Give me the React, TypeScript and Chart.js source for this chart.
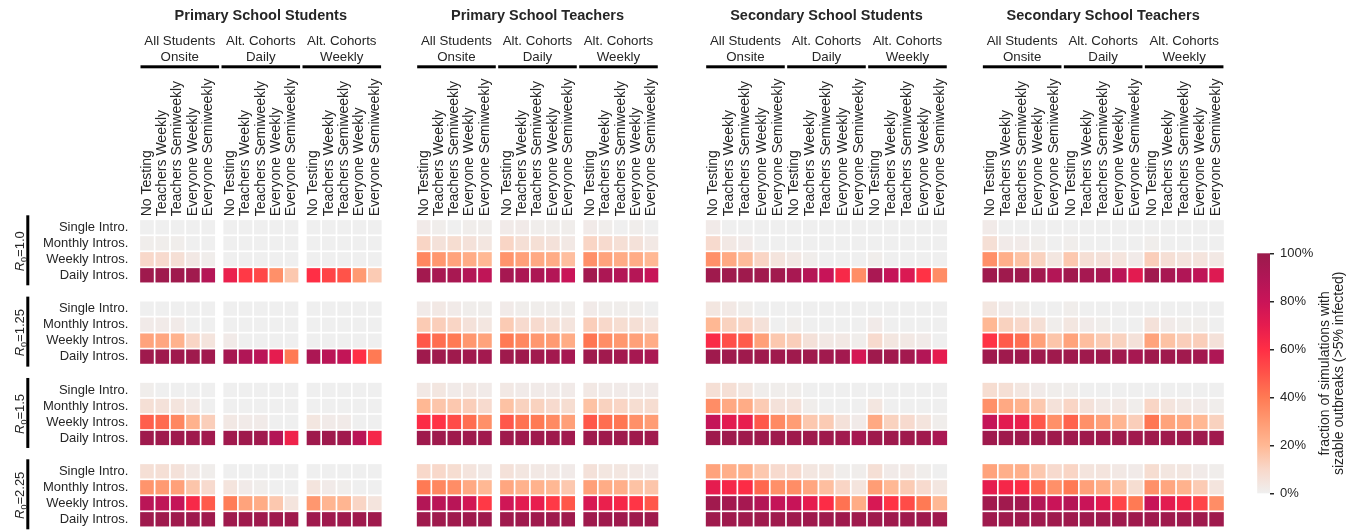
import React, { useEffect, useRef } from "react";
import { Chart, registerables } from "chart.js";

Chart.register(...registerables);

// ---------- labels ----------
const groupTitles = [
  "Primary School Students",
  "Primary School Teachers",
  "Secondary School Students",
  "Secondary School Teachers",
];
const scheduleLabels = [
  ["All Students", "Onsite"],
  ["Alt. Cohorts", "Daily"],
  ["Alt. Cohorts", "Weekly"],
];
const testingLabels = [
  "No Testing",
  "Teachers Weekly",
  "Teachers Semiweekly",
  "Everyone Weekly",
  "Everyone Semiweekly",
];
const introLabels = ["Single Intro.", "Monthly Intros.", "Weekly Intros.", "Daily Intros."];
const r0Values = ["1.0", "1.25", "1.5", "2.25"];
const colorbarTicks = [0, 20, 40, 60, 80, 100];
const colorbarTitle = ["fraction of simulations with", "sizable outbreaks (>5% infected)"];

// ---------- values (% of simulations with sizable outbreaks) ----------
// rows: R0 block (1.0, 1.25, 1.5, 2.25) x intro (single, monthly, weekly, daily)
// cols: schedule (onsite, cohorts daily, cohorts weekly) x testing (5)
const primaryStudents = [
  [0, 0, 0, 0, 0, 0, 0, 0, 0, 0, 0, 0, 0, 0, 0],
  [1, 1, 1, 0, 0, 0, 0, 0, 0, 0, 0, 0, 0, 0, 0],
  [10, 9, 7, 3, 1, 0, 0, 0, 0, 0, 0, 0, 0, 0, 0],
  [98, 98, 98, 97, 88, 68, 57, 53, 33, 15, 60, 54, 50, 30, 14],
  [0, 0, 0, 0, 0, 0, 0, 0, 0, 0, 0, 0, 0, 0, 0],
  [2, 2, 2, 0, 0, 0, 0, 0, 0, 0, 0, 0, 0, 0, 0],
  [27, 26, 22, 11, 5, 2, 0, 0, 0, 0, 0, 0, 0, 0, 0],
  [98, 98, 98, 98, 97, 95, 90, 86, 70, 40, 92, 86, 83, 60, 40],
  [1, 0, 0, 0, 0, 0, 0, 0, 0, 0, 0, 0, 0, 0, 0],
  [7, 6, 5, 3, 0, 0, 0, 0, 0, 0, 0, 0, 0, 0, 0],
  [47, 44, 36, 22, 13, 3, 2, 2, 0, 0, 4, 2, 2, 0, 0],
  [98, 98, 98, 98, 97, 97, 98, 97, 89, 66, 98, 98, 97, 86, 64],
  [7, 7, 6, 3, 1, 0, 0, 0, 0, 0, 0, 0, 0, 0, 0],
  [32, 30, 28, 16, 9, 5, 2, 1, 0, 0, 5, 2, 1, 0, 0],
  [86, 84, 82, 63, 48, 39, 27, 24, 15, 5, 31, 21, 21, 11, 5],
  [98, 98, 98, 98, 98, 98, 98, 98, 98, 98, 98, 98, 98, 98, 98],
];
const primaryTeachers = [
  [2, 1, 0, 1, 1, 2, 2, 1, 1, 1, 2, 1, 0, 1, 0],
  [11, 6, 8, 6, 4, 11, 7, 7, 6, 3, 11, 9, 7, 6, 3],
  [36, 31, 27, 24, 20, 32, 28, 25, 24, 18, 33, 27, 24, 24, 20],
  [96, 94, 94, 89, 84, 95, 92, 92, 89, 80, 96, 92, 89, 88, 81],
  [2, 3, 2, 1, 1, 2, 1, 1, 1, 1, 2, 1, 1, 1, 0],
  [14, 13, 11, 6, 4, 14, 9, 9, 7, 5, 13, 10, 8, 7, 5],
  [49, 43, 40, 31, 27, 40, 36, 31, 30, 24, 41, 34, 31, 28, 24],
  [98, 98, 98, 97, 96, 98, 98, 97, 96, 95, 98, 97, 96, 95, 93],
  [3, 4, 2, 3, 2, 3, 2, 2, 2, 2, 3, 2, 2, 2, 2],
  [20, 16, 15, 13, 9, 17, 12, 12, 9, 8, 17, 12, 11, 8, 8],
  [61, 59, 52, 43, 33, 49, 42, 40, 35, 28, 49, 43, 41, 33, 29],
  [98, 98, 98, 98, 97, 98, 98, 98, 98, 97, 98, 98, 98, 98, 97],
  [10, 10, 8, 5, 3, 6, 4, 3, 3, 2, 6, 4, 4, 3, 2],
  [40, 36, 34, 25, 20, 26, 22, 22, 20, 15, 28, 24, 23, 17, 16],
  [89, 86, 87, 77, 57, 78, 71, 69, 57, 49, 75, 68, 64, 58, 49],
  [98, 98, 98, 98, 98, 98, 98, 98, 98, 98, 98, 98, 98, 98, 98],
];
const secondaryStudents = [
  [2, 0, 0, 0, 0, 0, 0, 0, 0, 0, 0, 0, 0, 0, 0],
  [9, 3, 2, 0, 0, 0, 0, 0, 0, 0, 0, 0, 0, 0, 0],
  [33, 25, 19, 11, 5, 3, 1, 0, 0, 0, 1, 0, 0, 0, 0],
  [98, 98, 98, 97, 97, 94, 88, 81, 63, 34, 93, 82, 74, 59, 34],
  [4, 3, 1, 0, 0, 0, 0, 0, 0, 0, 0, 0, 0, 0, 0],
  [20, 12, 11, 6, 0, 1, 0, 0, 0, 0, 2, 0, 0, 0, 0],
  [62, 51, 48, 28, 15, 13, 6, 3, 3, 1, 9, 4, 3, 2, 0],
  [98, 98, 98, 98, 98, 98, 98, 97, 96, 76, 98, 97, 96, 89, 70],
  [7, 7, 4, 1, 1, 1, 0, 0, 0, 0, 0, 0, 0, 0, 0],
  [34, 25, 24, 14, 6, 6, 1, 0, 0, 0, 4, 0, 0, 0, 0],
  [82, 71, 69, 49, 35, 29, 15, 14, 6, 2, 25, 12, 9, 5, 1],
  [98, 98, 98, 98, 98, 98, 98, 98, 97, 95, 98, 98, 98, 97, 93],
  [27, 23, 23, 15, 9, 9, 4, 4, 1, 1, 7, 2, 3, 1, 0],
  [70, 64, 61, 45, 33, 34, 26, 18, 11, 5, 29, 20, 14, 9, 4],
  [97, 96, 95, 89, 82, 81, 70, 61, 42, 24, 75, 59, 52, 40, 20],
  [98, 98, 98, 98, 98, 98, 98, 98, 98, 98, 98, 98, 98, 98, 98],
];
const secondaryTeachers = [
  [2, 0, 0, 0, 0, 0, 0, 0, 0, 0, 0, 0, 0, 0, 0],
  [7, 2, 2, 1, 0, 1, 0, 0, 0, 0, 1, 0, 0, 0, 0],
  [33, 23, 17, 12, 4, 15, 7, 6, 5, 2, 13, 7, 5, 5, 3],
  [98, 98, 98, 96, 89, 97, 95, 94, 86, 71, 97, 94, 90, 84, 73],
  [4, 2, 1, 0, 0, 1, 0, 0, 0, 0, 0, 0, 0, 0, 0],
  [20, 12, 10, 7, 1, 4, 2, 1, 0, 0, 6, 2, 1, 1, 0],
  [59, 48, 43, 28, 16, 27, 18, 14, 12, 6, 27, 17, 13, 13, 6],
  [98, 98, 98, 98, 98, 98, 98, 98, 97, 95, 98, 98, 97, 96, 91],
  [8, 7, 4, 2, 1, 1, 0, 0, 0, 0, 0, 0, 0, 0, 0],
  [33, 25, 22, 15, 6, 11, 6, 3, 3, 1, 11, 5, 3, 2, 1],
  [82, 71, 68, 49, 33, 46, 33, 28, 21, 13, 41, 27, 25, 20, 12],
  [98, 98, 98, 98, 98, 98, 98, 98, 98, 97, 98, 98, 98, 98, 97],
  [27, 23, 23, 15, 9, 11, 5, 5, 3, 2, 8, 4, 4, 2, 1],
  [70, 64, 61, 44, 33, 40, 28, 24, 17, 8, 33, 26, 22, 14, 5],
  [97, 97, 96, 89, 80, 88, 80, 71, 54, 40, 81, 71, 64, 54, 34],
  [98, 98, 98, 98, 98, 98, 98, 98, 98, 98, 98, 98, 98, 98, 98],
];
const groupData = [primaryStudents, primaryTeachers, secondaryStudents, secondaryTeachers];

// ---------- style / layout ----------
const FONT = "'Liberation Sans', Arial, Helvetica, sans-serif";
const TEXT = "#262626";
const colorStops: [number, string][] = [
  [0, "#efefef"],
  [0.1, "#f8d8ca"],
  [0.2, "#ffb894"],
  [0.3, "#ff9a72"],
  [0.4, "#ff7a54"],
  [0.5, "#ff5349"],
  [0.6, "#ff2e45"],
  [0.7, "#e51c4f"],
  [0.8, "#c91458"],
  [0.9, "#b01656"],
  [1, "#9b1b4b"],
];
const X_MAX = 69.8;
const GROUP_START = [0, 17.08, 34.92, 52.0];
const CELL_W = [0.946, 0.946, 1, 1];
const SUB_GAP = [0.41, 0.41, 0, 0];
const BLOCK_START = [0, 5.083, 10.167, 15.25];
const Y_MAX = 19.25;
const CB_X = [69.01, 69.8];
const CB_MIN = -14.167;
const CB_MAX = 114.167;
const COL_FONT_SIZE = 14;

function hexToRgb(h: string) {
  const n = parseInt(h.slice(1), 16);
  return [(n >> 16) & 255, (n >> 8) & 255, n & 255];
}
function colorFor(v: number) {
  const t = Math.max(0, Math.min(1, v / 100));
  for (let i = 1; i < colorStops.length; i++) {
    const [t1, c1] = colorStops[i];
    const [t0, c0] = colorStops[i - 1];
    if (t <= t1) {
      const f = (t - t0) / (t1 - t0);
      const a = hexToRgb(c0);
      const b = hexToRgb(c1);
      const c = a.map((x, k) => Math.round(x + (b[k] - x) * f));
      return `rgb(${c[0]},${c[1]},${c[2]})`;
    }
  }
  return colorStops[colorStops.length - 1][1];
}
function colLeft(g: number, k: number, c: number) {
  return GROUP_START[g] + k * (5 * CELL_W[g] + SUB_GAP[g]) + c * CELL_W[g];
}
function zeroPadding(s: any) {
  s.paddingTop = 0;
  s.paddingBottom = 0;
  s.paddingLeft = 0;
  s.paddingRight = 0;
}

export default function App() {
  const ref = useRef<HTMLCanvasElement>(null);
  useEffect(() => {
    const canvas = ref.current!;
    const rowCenters: number[] = [];
    BLOCK_START.forEach((b) => introLabels.forEach((_l, r) => rowCenters.push(b + r + 0.5)));
    const colCenters: number[] = [];
    groupTitles.forEach((_t, g) =>
      scheduleLabels.forEach((_s, k) =>
        testingLabels.forEach((_l, c) => colCenters.push(colLeft(g, k, c) + CELL_W[g] / 2))
      )
    );

    const heatmapPlugin = {
      id: "heatmap",
      beforeDatasetsDraw(chart: any) {
        const ctx = chart.ctx;
        const xs = chart.scales.x;
        const ys = chart.scales.y;
        const inset = 0.85;
        ctx.save();
        groupData.forEach((rows, g) => {
          rows.forEach((vals, ri) => {
            const b = Math.floor(ri / 4);
            const r = ri % 4;
            const top = ys.getPixelForValue(BLOCK_START[b] + r);
            const bot = ys.getPixelForValue(BLOCK_START[b] + r + 1);
            vals.forEach((v, ci) => {
              const k = Math.floor(ci / 5);
              const c = ci % 5;
              const l = xs.getPixelForValue(colLeft(g, k, c));
              const rr = xs.getPixelForValue(colLeft(g, k, c) + CELL_W[g]);
              ctx.fillStyle = colorFor(v);
              ctx.fillRect(l + inset, top + inset, rr - l - 2 * inset, bot - top - 2 * inset);
            });
          });
        });
        // colorbar
        const cb = chart.scales.cb;
        const y0 = cb.getPixelForValue(0);
        const y1 = cb.getPixelForValue(100);
        const xl = xs.getPixelForValue(CB_X[0]);
        const xr = xs.getPixelForValue(CB_X[1]);
        const grad = ctx.createLinearGradient(0, y0, 0, y1);
        colorStops.forEach(([t, c]) => grad.addColorStop(t, c));
        ctx.fillStyle = grad;
        ctx.fillRect(xl, y1, xr - xl, y0 - y1);
        ctx.restore();
      },
      afterDraw(chart: any) {
        const ctx = chart.ctx;
        const xs = chart.scales.x;
        const ys = chart.scales.y;
        const cb = chart.scales.cb;
        ctx.save();
        ctx.textAlign = "center";
        ctx.textBaseline = "middle";
        groupTitles.forEach((t, g) => {
          ctx.fillStyle = TEXT;
          ctx.font = `bold 14.5px ${FONT}`;
          ctx.fillText(t, xs.getPixelForValue(GROUP_START[g] + 7.5), 16);
          scheduleLabels.forEach((lines, k) => {
            const sx = xs.getPixelForValue(GROUP_START[g] + k * 5 + 2.5);
            ctx.fillStyle = TEXT;
            ctx.font = `13.3px ${FONT}`;
            ctx.fillText(lines[0], sx, 41);
            ctx.fillText(lines[1], sx, 57);
            const a = xs.getPixelForValue(GROUP_START[g] + k * 5) + 1.2;
            const e = xs.getPixelForValue(GROUP_START[g] + (k + 1) * 5) - 1.2;
            ctx.fillStyle = "#000";
            ctx.fillRect(a, 65.3, e - a, 3);
          });
        });
        // R0 brackets and labels
        r0Values.forEach((r0, b) => {
          const top = ys.getPixelForValue(BLOCK_START[b]);
          const bot = ys.getPixelForValue(BLOCK_START[b] + 4);
          ctx.fillStyle = "#000";
          ctx.fillRect(26.3, top - 4, 3, bot - top + 6);
          const cy = (top + bot) / 2;
          ctx.save();
          ctx.translate(19.5, cy);
          ctx.rotate(-Math.PI / 2);
          ctx.fillStyle = TEXT;
          ctx.textAlign = "left";
          ctx.textBaseline = "alphabetic";
          const fMain = `13px ${FONT}`;
          const fIt = `italic 13px ${FONT}`;
          const fSub = `9px ${FONT}`;
          const rest = "=" + r0;
          ctx.font = fIt;
          const wR = ctx.measureText("R").width;
          ctx.font = fSub;
          const w0 = ctx.measureText("0").width;
          ctx.font = fMain;
          const wRest = ctx.measureText(rest).width;
          let x = -(wR + w0 + wRest) / 2;
          const base = 4.5;
          ctx.font = fIt;
          ctx.fillText("R", x, base);
          x += wR;
          ctx.font = fSub;
          ctx.fillText("0", x, base + 3);
          x += w0;
          ctx.font = fMain;
          ctx.fillText(rest, x, base);
          ctx.restore();
        });
        // colorbar title
        const cyc = (cb.getPixelForValue(0) + cb.getPixelForValue(100)) / 2;
        ctx.save();
        ctx.translate(1332, cyc);
        ctx.rotate(-Math.PI / 2);
        ctx.fillStyle = TEXT;
        ctx.font = `14px ${FONT}`;
        ctx.textAlign = "center";
        ctx.textBaseline = "middle";
        ctx.fillText(colorbarTitle[0], 0, -7);
        ctx.fillText(colorbarTitle[1], 0, 7);
        ctx.restore();
        ctx.restore();
      },
    };

    const chart = new Chart(canvas, {
      type: "scatter",
      data: { datasets: [] },
      options: {
        animation: false,
        responsive: false,
        events: [],
        layout: { padding: { left: 0, right: 0, top: 0, bottom: 2.7 } },
        plugins: { legend: { display: false }, tooltip: { enabled: false } },
        scales: {
          x: {
            type: "linear",
            position: "top",
            min: 0,
            max: X_MAX,
            grid: { display: false, drawTicks: false },
            border: { display: false },
            afterBuildTicks: (s: any) => {
              s.ticks = colCenters.map((v) => ({ value: v }));
            },
            afterFit: (s: any) => {
              s.height = 219.3;
              zeroPadding(s);
            },
            ticks: {
              autoSkip: false,
              minRotation: 90,
              maxRotation: 90,
              padding: 3,
              labelOffset: COL_FONT_SIZE * 1.2,
              color: TEXT,
              font: { family: FONT, size: COL_FONT_SIZE },
              callback: (_v: any, i: number) => testingLabels[i % 5],
            },
          },
          y: {
            type: "linear",
            position: "left",
            reverse: true,
            min: 0,
            max: Y_MAX,
            grid: { display: false, drawTicks: false },
            border: { display: false },
            afterBuildTicks: (s: any) => {
              s.ticks = rowCenters.map((v) => ({ value: v }));
            },
            afterFit: (s: any) => {
              s.width = 139.3;
              zeroPadding(s);
            },
            ticks: {
              autoSkip: false,
              padding: 11,
              color: TEXT,
              font: { family: FONT, size: 13 },
              callback: (_v: any, i: number) => introLabels[i % 4],
            },
          },
          cb: {
            type: "linear",
            position: "right",
            min: CB_MIN,
            max: CB_MAX,
            grid: {
              display: true,
              drawOnChartArea: false,
              drawTicks: true,
              tickLength: 4,
              color: TEXT,
              lineWidth: 1.5,
            },
            border: { display: false },
            afterBuildTicks: (s: any) => {
              s.ticks = colorbarTicks.map((v) => ({ value: v }));
            },
            afterFit: (s: any) => {
              s.width = 87;
              zeroPadding(s);
            },
            ticks: {
              autoSkip: false,
              padding: 6,
              color: TEXT,
              font: { family: FONT, size: 13 },
              callback: (v: any) => v + "%",
            },
          },
        },
      } as any,
      plugins: [heatmapPlugin],
    });
    return () => chart.destroy();
  }, []);

  return (
    <div style={{ position: "absolute", left: 0, top: 0, width: 1357, height: 530 }}>
      <canvas ref={ref} width={1357} height={530} style={{ display: "block", width: 1357, height: 530 }} />
    </div>
  );
}
